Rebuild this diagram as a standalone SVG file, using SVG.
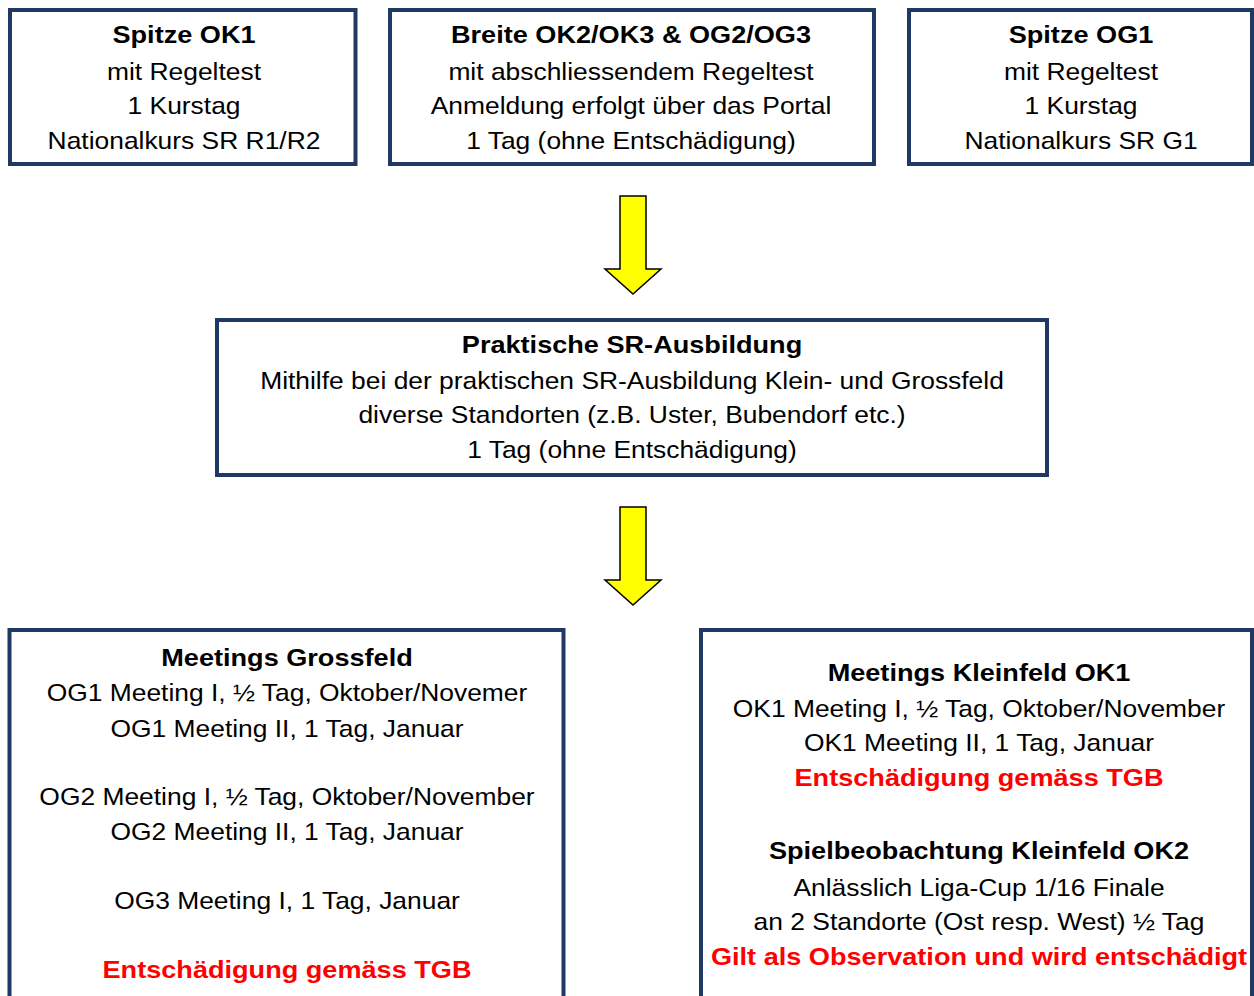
<svg xmlns="http://www.w3.org/2000/svg" width="1254" height="996" viewBox="0 0 1254 996">
<style>
.box{fill:#ffffff;stroke:#203864;stroke-width:4}
.t{font-family:"Liberation Sans",Arial,sans-serif;font-size:24px;fill:#000;text-anchor:middle}
.b{font-weight:bold}
.r{fill:#ff0000}
.arrow{fill:#ffff00;stroke:#000;stroke-width:1.5;stroke-linejoin:miter}
</style>
<rect width="1254" height="996" fill="#ffffff"/>
<g id="connectors">
<polygon class="arrow" points="620,196 646,196 646,269 661,269 633,294 605,269 620,269"/>
<polygon class="arrow" points="620,507 646,507 646,580 661,580 633,605 605,580 620,580"/>
</g>
<g id="spitze-ok1">
<rect class="box" x="10" y="10" width="345.5" height="154"/>
<text class="t b" transform="translate(184,43) scale(1.13,1)">Spitze OK1</text>
<text class="t" transform="translate(184,80) scale(1.1,1)">mit Regeltest</text>
<text class="t" transform="translate(184,114) scale(1.1,1)">1 Kurstag</text>
<text class="t" transform="translate(184,149) scale(1.1,1)">Nationalkurs SR R1/R2</text>
</g>
<g id="breite">
<rect class="box" x="390" y="10" width="484" height="154"/>
<text class="t b" transform="translate(631,43) scale(1.13,1)">Breite OK2/OK3 &amp; OG2/OG3</text>
<text class="t" transform="translate(631,80) scale(1.1,1)">mit abschliessendem Regeltest</text>
<text class="t" transform="translate(631,114) scale(1.1,1)">Anmeldung erfolgt über das Portal</text>
<text class="t" transform="translate(631,149) scale(1.1,1)">1 Tag (ohne Entschädigung)</text>
</g>
<g id="spitze-og1">
<rect class="box" x="909" y="10" width="343" height="154"/>
<text class="t b" transform="translate(1081,43) scale(1.13,1)">Spitze OG1</text>
<text class="t" transform="translate(1081,80) scale(1.1,1)">mit Regeltest</text>
<text class="t" transform="translate(1081,114) scale(1.1,1)">1 Kurstag</text>
<text class="t" transform="translate(1081,149) scale(1.1,1)">Nationalkurs SR G1</text>
</g>
<g id="praktische">
<rect class="box" x="217" y="320" width="830" height="155"/>
<text class="t b" transform="translate(632,353) scale(1.13,1)">Praktische SR-Ausbildung</text>
<text class="t" transform="translate(632,389) scale(1.1,1)">Mithilfe bei der praktischen SR-Ausbildung Klein- und Grossfeld</text>
<text class="t" transform="translate(632,423) scale(1.1,1)">diverse Standorten (z.B. Uster, Bubendorf etc.)</text>
<text class="t" transform="translate(632,458) scale(1.1,1)">1 Tag (ohne Entschädigung)</text>
</g>
<g id="meetings-grossfeld">
<rect class="box" x="9.5" y="630" width="554" height="400"/>
<text class="t b" transform="translate(287,666) scale(1.13,1)">Meetings Grossfeld</text>
<text class="t" transform="translate(287,701) scale(1.1,1)">OG1 Meeting I, ½ Tag, Oktober/Novemer</text>
<text class="t" transform="translate(287,737) scale(1.1,1)">OG1 Meeting II, 1 Tag, Januar</text>
<text class="t" transform="translate(287,805) scale(1.1,1)">OG2 Meeting I, ½ Tag, Oktober/November</text>
<text class="t" transform="translate(287,840) scale(1.1,1)">OG2 Meeting II, 1 Tag, Januar</text>
<text class="t" transform="translate(287,909) scale(1.1,1)">OG3 Meeting I, 1 Tag, Januar</text>
<text class="t b r" transform="translate(287,978) scale(1.13,1)">Entschädigung gemäss TGB</text>
</g>
<g id="meetings-kleinfeld">
<rect class="box" x="701" y="630" width="551" height="400"/>
<text class="t b" transform="translate(979,681) scale(1.13,1)">Meetings Kleinfeld OK1</text>
<text class="t" transform="translate(979,717) scale(1.1,1)">OK1 Meeting I, ½ Tag, Oktober/November</text>
<text class="t" transform="translate(979,751) scale(1.1,1)">OK1 Meeting II, 1 Tag, Januar</text>
<text class="t b r" transform="translate(979,786) scale(1.13,1)">Entschädigung gemäss TGB</text>
<text class="t b" transform="translate(979,859) scale(1.13,1)">Spielbeobachtung Kleinfeld OK2</text>
<text class="t" transform="translate(979,896) scale(1.1,1)">Anlässlich Liga-Cup 1/16 Finale</text>
<text class="t" transform="translate(979,930) scale(1.1,1)">an 2 Standorte (Ost resp. West) ½ Tag</text>
<text class="t b r" transform="translate(979,965) scale(1.13,1)">Gilt als Observation und wird entschädigt</text>
</g>
</svg>
